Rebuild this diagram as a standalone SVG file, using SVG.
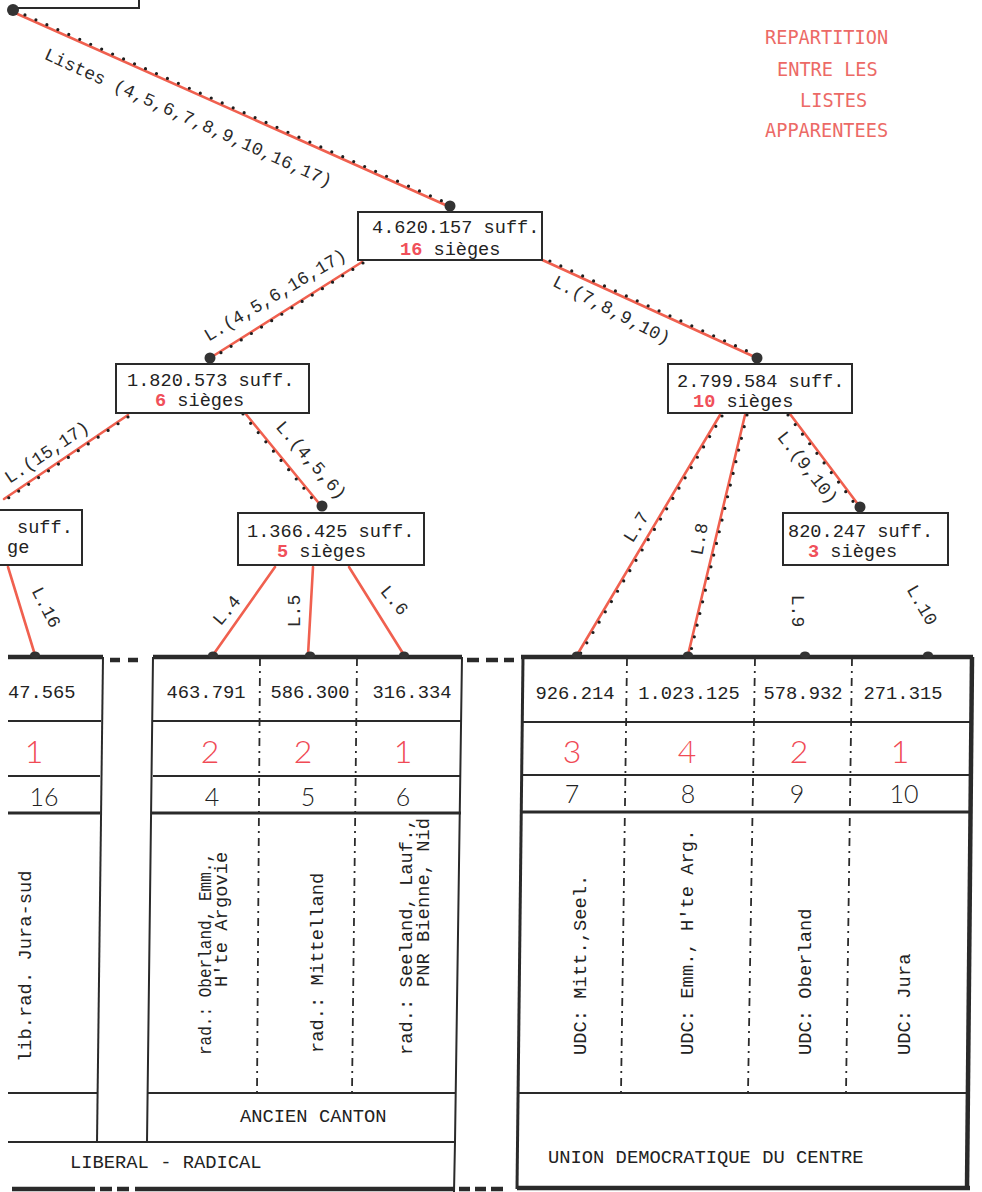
<svg xmlns="http://www.w3.org/2000/svg" width="982" height="1192" viewBox="0 0 982 1192">
<defs>
<style>
.box{fill:#fff;stroke:#2a2a2a;stroke-width:2}
.bt{font-family:"Liberation Mono",monospace;font-size:18.6px;fill:#222}
.rn{fill:#f0505a;font-weight:bold}
.lbl{font-family:"Liberation Mono",monospace;font-size:18px;fill:#2a2a2a;text-anchor:middle}
.red{stroke:#f0604f;stroke-width:2.6;fill:none;stroke-linecap:round}
.dots{stroke:#1e1e1e;stroke-width:3.2;stroke-dasharray:0 12;stroke-linecap:round;fill:none}
.node{fill:#333}
.ln{stroke:#2a2a2a;stroke-width:2;fill:none}
.thick{stroke:#2a2a2a;stroke-width:4.5;fill:none}
.mid{stroke:#2a2a2a;stroke-width:3;fill:none}
.dash{stroke:#2a2a2a;stroke-width:1.8;fill:none;stroke-dasharray:8 5 2 5}
.val{font-family:"Liberation Mono",monospace;font-size:18.8px;fill:#222;text-anchor:middle}
.vt{font-family:"Liberation Mono",monospace;font-size:18.8px;fill:#222}
.seat{font-family:Lato,"Liberation Sans",sans-serif;font-weight:300;font-size:32px;fill:#f04a55;text-anchor:middle}
.num{font-family:Lato,"Liberation Sans",sans-serif;font-weight:300;font-size:25px;fill:#222;text-anchor:middle}
.title{font-family:"DejaVu Sans Mono",monospace;font-size:18.6px;fill:#ec6a66}
.bump{fill:#333}
</style>
</defs>
<rect width="982" height="1192" fill="#fff"/>

<g id="title">
<text class="title" x="765" y="44">REPARTITION</text>
<text class="title" x="777" y="76">ENTRE LES</text>
<text class="title" x="800" y="107">LISTES</text>
<text class="title" x="765" y="137">APPARENTEES</text>
</g>

<g id="connectors">
<path class="red" d="M13,12 L450,207"/>
<path class="dots" d="M14,10 L451,205"/>
<path class="red" d="M362,262 L210,358"/>
<path class="dots" d="M363,263 L211,359"/>
<path class="red" d="M538,258 L757,358"/>
<path class="dots" d="M539,256 L758,356"/>
<path class="red" d="M128,415 L4,499"/>
<path class="dots" d="M128,417 L4,501"/>
<path class="red" d="M245,413 L322,507"/>
<path class="dots" d="M243,414 L320,508"/>
<path class="red" d="M720,415 L577,655"/>
<path class="dots" d="M722,416 L579,656"/>
<path class="red" d="M745,415 L688,655"/>
<path class="dots" d="M747,415 L690,655"/>
<path class="red" d="M790,414 L860,507"/>
<path class="dots" d="M788,415 L858,508"/>
<path class="red" d="M8,567 L35,655"/>
<path class="red" d="M275,567 L213,655"/>
<path class="red" d="M313,567 L308,655"/>
<path class="red" d="M349,567 L404,655"/>

<text class="lbl" font-size="18.6" transform="translate(186,123) rotate(24.3)">Listes (4,5,6,7,8,9,10,16,17)</text>
<text class="lbl" transform="translate(278,300) rotate(-31)">L.(4,5,6,16,17)</text>
<text class="lbl" transform="translate(609,315) rotate(27.4)">L.(7,8,9,10)</text>
<text class="lbl" transform="translate(50,457) rotate(-33.7)">L.(15,17)</text>
<text class="lbl" transform="translate(307,464) rotate(49)">L.(4,5,6)</text>
<text class="lbl" transform="translate(41,610) rotate(63)">L.16</text>
<text class="lbl" transform="translate(231,614) rotate(-50)">L.4</text>
<text class="lbl" transform="translate(300,611) rotate(-90)">L.5</text>
<text class="lbl" transform="translate(390,604) rotate(50)">L.6</text>
<text class="lbl" transform="translate(641,530) rotate(-58)">L.7</text>
<text class="lbl" transform="translate(705,540) rotate(-80)">L.8</text>
<text class="lbl" transform="translate(803,471) rotate(52)">L.(9,10)</text>
<text class="lbl" transform="translate(792,611) rotate(90)">L.9</text>
<text class="lbl" transform="translate(917,608) rotate(60)">L.10</text>
</g>

<g id="node-root">
<path class="ln" d="M14,8 L139,8 L139,-2"/>
<circle class="node" cx="13" cy="10" r="6"/>
</g>

<g id="node-4620157">
<rect class="box" x="358" y="212" width="184" height="48"/>
<text class="bt" font-size="18" x="372" y="233">4.620.157 suff.</text>
<text class="bt" font-size="18" x="400" y="255"><tspan class="rn">16</tspan> sièges</text>
<circle class="node" cx="450" cy="206" r="5.5"/>
</g>

<g id="node-1820573">
<rect class="box" x="116" y="364" width="193" height="49"/>
<text class="bt" x="127" y="386">1.820.573 suff.</text>
<text class="bt" x="155" y="406"><tspan class="rn">6</tspan> sièges</text>
<circle class="node" cx="210" cy="358" r="5.5"/>
</g>

<g id="node-left-partial">
<rect class="box" x="-6" y="510" width="88" height="55"/>
<text class="bt" x="17" y="533">suff.</text>
<text class="bt" x="7" y="553">ge</text>
</g>

<g id="node-1366425">
<rect class="box" x="238" y="513" width="186" height="52"/>
<text class="bt" x="247" y="537">1.366.425 suff.</text>
<text class="bt" x="277" y="557"><tspan class="rn">5</tspan> sièges</text>
<circle class="node" cx="322" cy="506" r="5.5"/>
</g>

<g id="node-2799584">
<rect class="box" x="668" y="364" width="184" height="49"/>
<text class="bt" x="677" y="387">2.799.584 suff.</text>
<text class="bt" x="693" y="407"><tspan class="rn" font-weight="normal">10</tspan> sièges</text>
<circle class="node" cx="757" cy="358" r="5.5"/>
</g>

<g id="node-820247">
<rect class="box" x="783" y="513" width="165" height="52"/>
<text class="bt" x="788" y="537">820.247 suff.</text>
<text class="bt" x="808" y="557"><tspan class="rn" font-weight="normal">3</tspan> sièges</text>
<circle class="node" cx="860" cy="507" r="5.5"/>
</g>

<g id="table-left">
<path class="thick" d="M8,657 L103,657"/>
<path class="ln" d="M103,657 L97,1142"/>
<path class="ln" d="M8,721 L101,721 M8,776 L100,776 M8,1093 L97,1093"/>
<path class="mid" d="M8,813 L100,813"/>
<path class="thick" d="M110,660 L120,660 M128,660 L138,660" stroke-width="3"/>
<ellipse class="bump" cx="35" cy="655" rx="5" ry="3.5"/>
<text class="val" x="8" y="698" style="text-anchor:start">47.565</text>
<text class="seat" x="34" y="763">1</text>
<text class="num" x="44" y="806">16</text>
<text class="vt" transform="translate(31,1062) rotate(-90)">lib.rad. Jura-sud</text>
</g>

<g id="table-ancien-canton">
<path class="thick" d="M153,657 L462,657"/>
<path class="ln" d="M153,657 L147,1142 M462,657 L455,1142"/>
<path class="ln" d="M153,721 L462,721 M153,776 L461,776 M148,1093 L456,1093"/>
<path class="mid" d="M152,813 L461,813"/>
<path class="dash" d="M260,658 L257,1093 M357,658 L352,1093"/>
<path class="thick" d="M467,660 L479,660 M486,660 L498,660 M504,660 L514,660" stroke-width="3"/>
<ellipse class="bump" cx="213" cy="655" rx="5" ry="3.5"/>
<ellipse class="bump" cx="310" cy="655" rx="5" ry="3.5"/>
<ellipse class="bump" cx="404" cy="655" rx="5" ry="3.5"/>
<text class="val" x="206" y="698">463.791</text>
<text class="val" x="310" y="698">586.300</text>
<text class="val" x="412" y="698">316.334</text>
<text class="seat" x="210" y="763">2</text>
<text class="seat" x="303" y="763">2</text>
<text class="seat" x="403" y="763">1</text>
<text class="num" x="212" y="806">4</text>
<text class="num" x="308" y="806">5</text>
<text class="num" x="403" y="806">6</text>
<text class="vt" transform="translate(211,1055) rotate(-90)" textLength="202" lengthAdjust="spacingAndGlyphs">rad.: Oberland, Emm.,</text>
<text class="vt" transform="translate(227,987) rotate(-90)">H'te Argovie</text>
<text class="vt" transform="translate(323,1053) rotate(-90)">rad.: Mittelland</text>
<text class="vt" transform="translate(412,1055) rotate(-90)">rad.: Seeland, Lauf.,</text>
<text class="vt" transform="translate(429,987) rotate(-90)">PNR Bienne, Nid</text>
<text class="vt" x="240" y="1122">ANCIEN CANTON</text>
</g>

<g id="table-liberal-radical">
<path class="ln" d="M8,1142 L455,1142 M455,1142 L454,1192"/>
<path class="thick" d="M12,1189 L95,1189 M100,1189 L112,1189 M117,1189 L129,1189 M135,1189 L454,1189"/>
<path class="thick" d="M459,1189 L470,1189 M475,1189 L486,1189 M491,1189 L503,1189" stroke-width="3.5"/>
<text class="vt" x="70" y="1168">LIBERAL - RADICAL</text>
</g>

<g id="table-udc">
<path class="thick" d="M521,657 L973,657"/>
<path class="mid" d="M523,657 L517,1189"/>
<path class="thick" d="M972,657 L967,1189" stroke-width="5"/>
<path class="thick" d="M517,1188 L970,1188"/>
<path class="ln" d="M522,722 L972,722 M522,775 L971,775 M517,1093 L968,1093"/>
<path class="mid" d="M521,812 L971,812"/>
<path class="dash" d="M627,658 L621,1093 M755,658 L748,1093 M852,658 L846,1093"/>
<ellipse class="bump" cx="577" cy="655" rx="5" ry="3.5"/>
<ellipse class="bump" cx="688" cy="655" rx="5" ry="3.5"/>
<ellipse class="bump" cx="805" cy="655" rx="5" ry="3.5"/>
<ellipse class="bump" cx="928" cy="655" rx="5" ry="3.5"/>
<text class="val" x="575" y="699">926.214</text>
<text class="val" x="689" y="699">1.023.125</text>
<text class="val" x="803" y="699">578.932</text>
<text class="val" x="903" y="699">271.315</text>
<text class="seat" x="572" y="763">3</text>
<text class="seat" x="687" y="763">4</text>
<text class="seat" x="799" y="763">2</text>
<text class="seat" x="900" y="763">1</text>
<text class="num" x="572" y="803">7</text>
<text class="num" x="688" y="803">8</text>
<text class="num" x="797" y="803">9</text>
<text class="num" x="904" y="803">10</text>
<text class="vt" transform="translate(586,1055) rotate(-90)">UDC: Mitt.,Seel.</text>
<text class="vt" transform="translate(693,1055) rotate(-90)">UDC: Emm., H'te Arg.</text>
<text class="vt" transform="translate(811,1055) rotate(-90)">UDC: Oberland</text>
<text class="vt" transform="translate(910,1055) rotate(-90)">UDC: Jura</text>
<text class="vt" x="548" y="1163">UNION DEMOCRATIQUE DU CENTRE</text>
</g>
</svg>
